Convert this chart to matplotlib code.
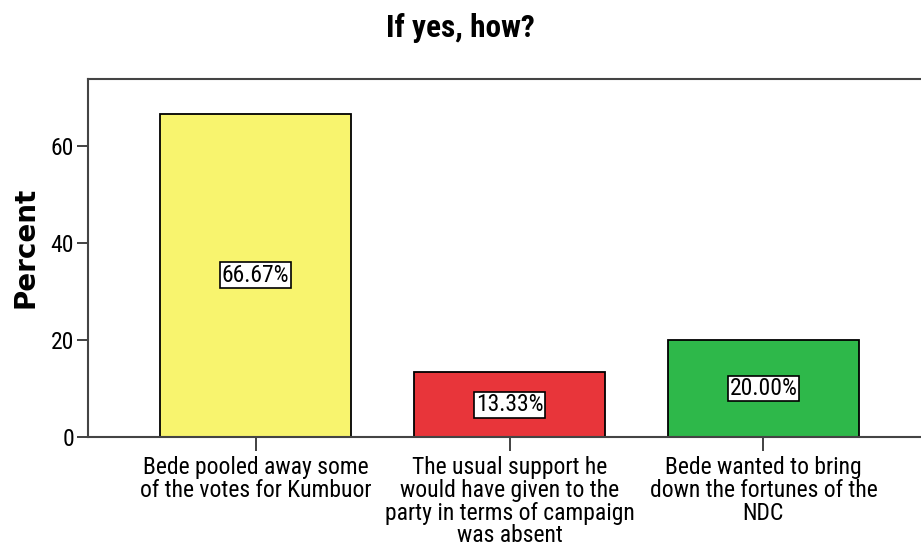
"""Bar chart: If yes, how?"""

import matplotlib
matplotlib.use('Agg')
from matplotlib import pyplot

# Data.
categories = ['Bede pooled away some\nof the votes for Kumbuor',
              'The usual support he\nwould have given to the\n'
              'party in terms of campaign\nwas absent',
              'Bede wanted to bring\ndown the fortunes of the\nNDC']
percents = [66.67, 13.33, 20.00]
bar_labels = ['66.67%', '13.33%', '20.00%']
yticks = [0, 20, 40, 60]
colors = ['#f8f46e', '#e8353a', '#2eb84a']

pyplot.rcParams['font.family'] = ['Roboto Condensed', 'DejaVu Sans']

fig = pyplot.figure(figsize=(9.21, 5.57), dpi=100)
ax = fig.add_axes((88 / 921, 1 - 437 / 557, 843 / 921, 358 / 557))

x = list(range(len(categories)))
ax.bar(x, percents, width=0.75, color=colors, edgecolor='black',
       linewidth=1.3, zorder=2)
for xi, p, lab in zip(x, percents, bar_labels):
    ax.text(xi, p / 2, lab, ha='center', va='center', fontsize=17,
            bbox=dict(boxstyle='square,pad=0.06', facecolor='white',
                      edgecolor='black', linewidth=1.2), zorder=3)

ax.set_xlim(-0.66, 2.66)
ax.set_ylim(0, 73.8)
ax.set_yticks(yticks)
ax.set_xticks(x)
ax.set_xticklabels(categories, fontsize=17, linespacing=0.98)
ax.tick_params(axis='y', labelsize=17, length=8, width=1.3, pad=2,
               colors='#333333')
ax.tick_params(axis='x', length=10, width=1.3, pad=4, colors='#333333')
for lab in ax.get_xticklabels() + ax.get_yticklabels():
    lab.set_color('black')

for side in ['left', 'bottom', 'top', 'right']:
    ax.spines[side].set_color('#444444')
    ax.spines[side].set_linewidth(1.5)

ax.set_ylabel('Percent', fontsize=20, fontweight='bold',
              family=['DejaVu Sans'], labelpad=8)
ax.yaxis.label.set_y(0.53)
fig.text(0.5, 1 - 28 / 557, 'If yes, how?', ha='center', va='center',
         fontsize=22.5, fontweight='bold')

fig.savefig('out.png', dpi=100)
